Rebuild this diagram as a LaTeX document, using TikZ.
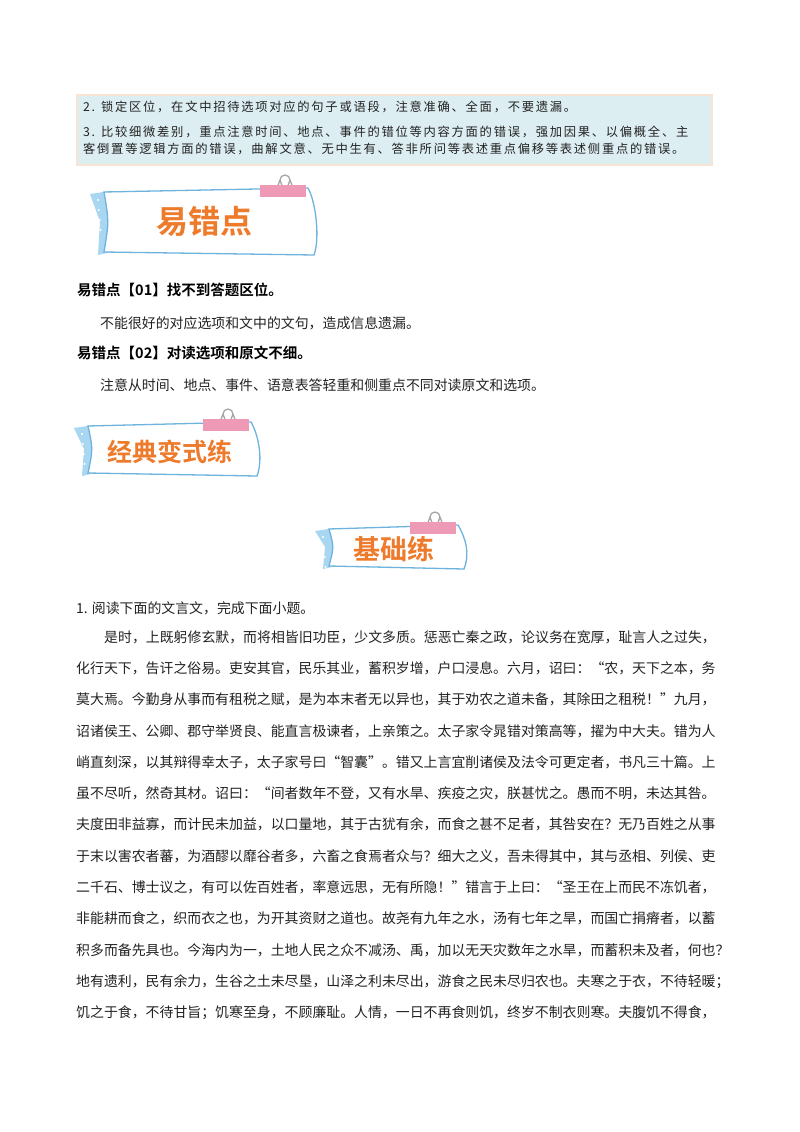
\documentclass[tikz,border=0pt]{standalone}
\usepackage{fontspec}
\newfontfamily\cjk[BoldFont=Noto Sans CJK SC Bold]{Noto Sans CJK SC}
\newfontfamily\cjkbox[LetterSpace=14]{Noto Sans CJK SC}
\newfontfamily\cjkban{Noto Sans CJK SC Bold}
\definecolor{boxfill}{HTML}{DDEEF3}
\definecolor{boxedge}{HTML}{F8E4D2}
\definecolor{banblue}{HTML}{6DB3DE}
\definecolor{flapblue}{HTML}{A9D6F0}
\definecolor{clippink}{HTML}{EE9AB6}
\definecolor{banorange}{HTML}{EE7A2C}
\definecolor{txt}{HTML}{222222}
\newcommand\bannerpic[2]{%
  \fill[flapblue] (0,6) -- (20,3) -- (22,#2-3) -- (8,#2) -- (10,#2/2) -- cycle;
  \foreach \yy in {12,22,...,50} {\fill[white] (7+\yy/12,\yy) circle (1.1);}
  \filldraw[fill=white,draw=banblue,line width=1.3]
    (14,4) -- (#1-10,0) .. controls (#1-2,14) and (#1+2,#2-16) .. (#1-4,#2)
    -- (14,#2-3) .. controls (19,#2/2) .. (14,4) -- cycle;
  \draw[gray!70,line width=1.3] (#1-41,0) -- (#1-38,-8) arc[start angle=180,end angle=360,radius=5] -- (#1-25,0);
  \draw[gray!70,line width=1.3] (#1-38,-8) -- (#1-34,3) (#1-28,-8) -- (#1-32,3);
  \fill[clippink] (#1-58,-3) rectangle (#1-12,9);
}
\begin{document}
\begin{tikzpicture}[x=1pt,y=-1pt,
  boxt/.style={anchor=west,inner sep=0pt,font=\cjkbox\fontsize{12.3}{14}\selectfont,text=txt},
  bodyt/.style={anchor=west,inner sep=0pt,font=\cjk\fontsize{13.9}{16}\selectfont,text=txt},
  headt/.style={anchor=west,inner sep=0pt,font=\cjk\bfseries\fontsize{14.5}{16}\selectfont,text=black},
  bant/.style={inner sep=0pt,text=banorange}]
\useasboundingbox (0,0) rectangle (800,1132);
\fill[white] (0,0) rectangle (800,1132);
% tip box
\filldraw[fill=boxfill,draw=boxedge,line width=2] (77,95) rectangle (712,165);
\node[boxt] (b2) at (83,107) {2. 锁定区位，在文中招待选项对应的句子或语段，注意准确、全面，不要遗漏。};
\node[boxt] (b3) at (83,132) {3. 比较细微差别，重点注意时间、地点、事件的错位等内容方面的错误，强加因果、以偏概全、主};
\node[boxt] (b3b) at (83,149) {客倒置等逻辑方面的错误，曲解文意、无中生有、答非所问等表述重点偏移等表述侧重点的错误。};
% banner 1
\begin{scope}[shift={(90,188)}]
  \bannerpic{228}{67}
\end{scope}
\node[bant,font=\cjkban\fontsize{32}{34}\selectfont] (ban1) at (204,221) {易错点};
\node[headt] (h1) at (77,290) {易错点【01】找不到答题区位。};
\node[bodyt] (p1) at (100,323) {不能很好的对应选项和文中的文句，造成信息遗漏。};
\node[headt] (h2) at (77,353) {易错点【02】对读选项和原文不细。};
\node[bodyt] (p2) at (100,385) {注意从时间、地点、事件、语意表答轻重和侧重点不同对读原文和选项。};
% banner 2
\begin{scope}[shift={(74,422)}]
  \bannerpic{187}{54}
\end{scope}
\node[bant,font=\cjkban\fontsize{25}{27}\selectfont] (ban2) at (170,452) {经典变式练};
% banner 3
\begin{scope}[shift={(315,525)}]
  \bannerpic{153}{44}
\end{scope}
\node[bant,font=\cjkban\fontsize{27}{29}\selectfont] (ban3) at (394,549) {基础练};
% passage
\node[bodyt] (q1) at (76,608) {1. 阅读下面的文言文，完成下面小题。};
\node[bodyt] (l1) at (104,637) {是时，上既躬修玄默，而将相皆旧功臣，少文多质。惩恶亡秦之政，论议务在宽厚，耻言人之过失，};
\node[bodyt] (l2) at (76,668.3) {化行天下，告讦之俗易。吏安其官，民乐其业，蓄积岁增，户口浸息。六月，诏曰：“农，天下之本，务};
\node[bodyt] (l3) at (76,699.6) {莫大焉。今勤身从事而有租税之赋，是为本末者无以异也，其于劝农之道未备，其除田之租税！”九月，};
\node[bodyt] (l4) at (76,730.9) {诏诸侯王、公卿、郡守举贤良、能直言极谏者，上亲策之。太子家令晁错对策高等，擢为中大夫。错为人};
\node[bodyt] (l5) at (76,762.2) {峭直刻深，以其辩得幸太子，太子家号曰“智囊”。错又上言宜削诸侯及法令可更定者，书凡三十篇。上};
\node[bodyt] (l6) at (76,793.5) {虽不尽听，然奇其材。诏曰：“间者数年不登，又有水旱、疾疫之灾，朕甚忧之。愚而不明，未达其咎。};
\node[bodyt] (l7) at (76,824.8) {夫度田非益寡，而计民未加益，以口量地，其于古犹有余，而食之甚不足者，其咎安在？无乃百姓之从事};
\node[bodyt] (l8) at (76,856.1) {于末以害农者蕃，为酒醪以靡谷者多，六畜之食焉者众与？细大之义，吾未得其中，其与丞相、列侯、吏};
\node[bodyt] (l9) at (76,887.4) {二千石、博士议之，有可以佐百姓者，率意远思，无有所隐！”错言于上曰：“圣王在上而民不冻饥者，};
\node[bodyt] (l10) at (76,918.7) {非能耕而食之，织而衣之也，为开其资财之道也。故尧有九年之水，汤有七年之旱，而国亡捐瘠者，以蓄};
\node[bodyt] (l11) at (76,950) {积多而备先具也。今海内为一，土地人民之众不减汤、禹，加以无天灾数年之水旱，而蓄积未及者，何也？};
\node[bodyt] (l12) at (76,981.3) {地有遗利，民有余力，生谷之土未尽垦，山泽之利未尽出，游食之民未尽归农也。夫寒之于衣，不待轻暖；};
\node[bodyt] (l13) at (76,1012.6) {饥之于食，不待甘旨；饥寒至身，不顾廉耻。人情，一日不再食则饥，终岁不制衣则寒。夫腹饥不得食，};
\end{tikzpicture}
\end{document}
